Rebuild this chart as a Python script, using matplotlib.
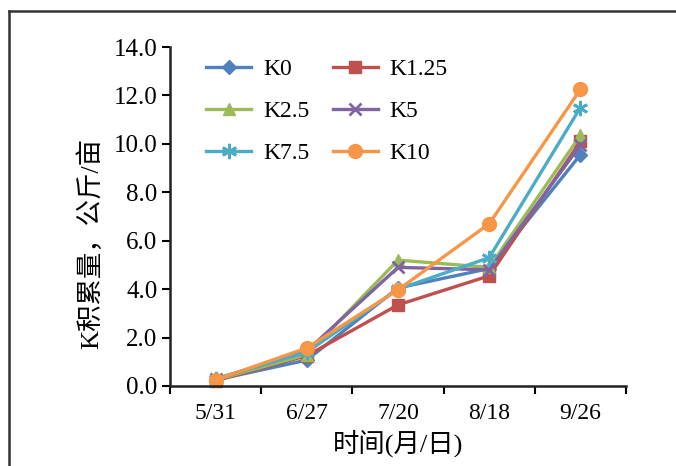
import matplotlib
matplotlib.use("Agg")
import matplotlib.pyplot as plt
from matplotlib.lines import Line2D
import numpy as np

plt.rcParams['font.family'] = ['Liberation Serif', 'Noto Sans CJK SC']

dates = ["5/31", "6/27", "7/20", "8/18", "9/26"]
k0   = [0.25, 1.07, 4.05, 4.85, 9.55]
k125 = [0.22, 1.25, 3.35, 4.55, 10.1]
k25  = [0.25, 1.30, 5.20, 4.90, 10.35]
k5   = [0.28, 1.45, 4.90, 4.80, 9.95]
k75  = [0.30, 1.40, 4.00, 5.30, 11.5]
k10  = [0.25, 1.57, 3.97, 6.70, 12.25]

series = [
    ("K0", k0, "#4F81BD", "D", 7),
    ("K1.25", k125, "#C0504D", "s", 8),
    ("K2.5", k25, "#9BBB59", "^", 9),
    ("K5", k5, "#8064A2", "x", 9),
    ("K7.5", k75, "#4BACC6", (6, 2, 0), 11),
    ("K10", k10, "#F79646", "o", 10),
]

fig = plt.figure(figsize=(6.76, 4.66), dpi=100)
ax = fig.add_axes([0.2515, 0.1717, 0.6745, 0.7273])

x = np.arange(len(dates))
handles = {}
for name, vals, col, mk, ms in series:
    ln, = ax.plot(x, vals, color=col, lw=2.4, marker=mk, markersize=ms,
                  markeredgewidth=2 if mk in ("x", (6, 2, 0)) else 1,
                  markeredgecolor=col, markerfacecolor=col, label=name,
                  clip_on=False)
    handles[name] = ln

ax.set_xlim(-0.5, len(dates) - 0.5)
ax.set_ylim(0, 14)
yt = np.arange(0, 14.1, 2)
ax.set_yticks(yt)
ax.set_yticklabels([f"{v:.1f}" for v in yt], fontsize=18)
ax.set_xticks(x)
ax.set_xticklabels(dates, fontsize=17)
ax.set_xticks(np.arange(-0.5, len(dates)), minor=True)
ax.tick_params(axis='x', which='major', length=0, pad=12)
ax.tick_params(axis='x', which='minor', length=6, width=1.5, direction='out')
ax.tick_params(axis='y', length=6, width=1.5, direction='out', pad=3)

for s in ("top", "right"):
    ax.spines[s].set_visible(False)
for s in ("left", "bottom"):
    ax.spines[s].set_linewidth(1.8)
    ax.spines[s].set_color("#222222")

ax.set_xlabel("时间(月/日)", fontsize=19, labelpad=4)
ax.set_ylabel("K积累量，公斤/亩", fontsize=19)
ax.yaxis.set_label_coords(-0.147, 0.42)

# two-column legend filled row by row
order = ["K0", "K2.5", "K7.5", "K1.25", "K5", "K10"]
ax.legend([handles[n] for n in order], order, loc="upper left",
          bbox_to_anchor=(0.033, 1.028), ncol=2, frameon=False,
          fontsize=17, handlelength=1.9, columnspacing=1.0, labelspacing=0.86,
          handletextpad=0.5)

# figure frame: top and left edges
fig.add_artist(Line2D([9 / 676, 1.0], [1 - 11 / 466, 1 - 11 / 466],
                      transform=fig.transFigure, color="#333333", lw=1.8))
fig.add_artist(Line2D([9 / 676, 9 / 676], [0.0, 1 - 11 / 466],
                      transform=fig.transFigure, color="#333333", lw=1.8))

fig.savefig("out.png", dpi=100)
